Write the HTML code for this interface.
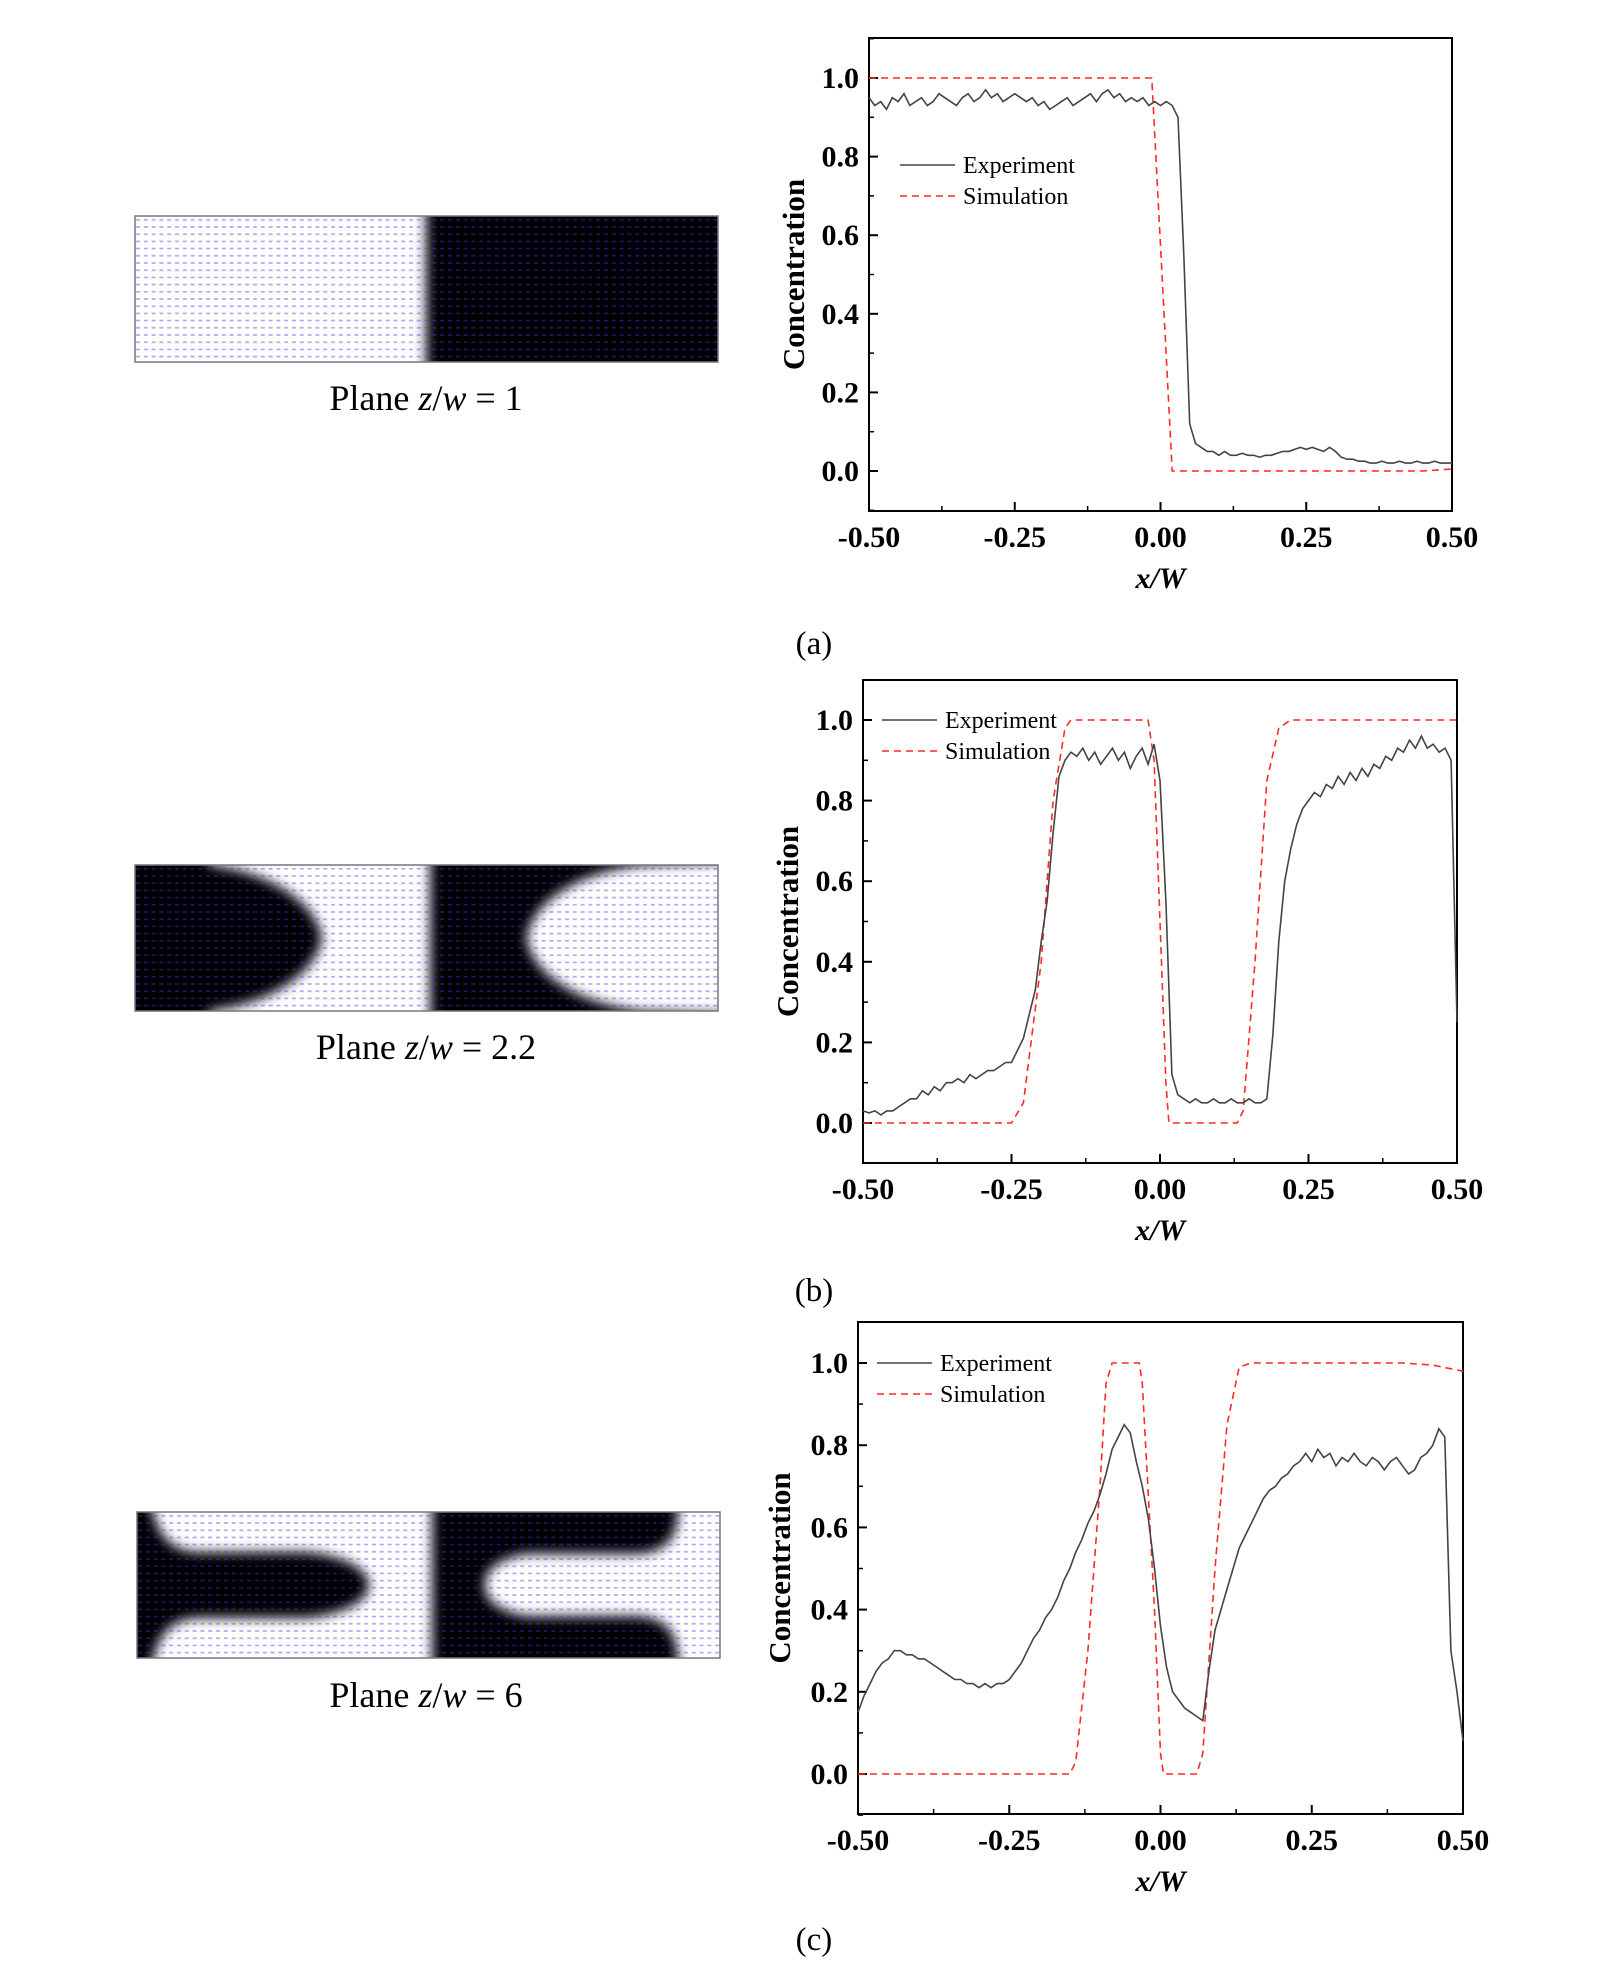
<!DOCTYPE html>
<html><head><meta charset="utf-8"><style>
html,body{margin:0;padding:0;background:#fff;}
svg{display:block;}
text{font-family:"Liberation Serif",serif;}
</style></head><body>
<svg id="fig" width="1604" height="1967" viewBox="0 0 1604 1967" xmlns="http://www.w3.org/2000/svg">
<defs>
<filter id="blur" x="-10%" y="-10%" width="120%" height="120%"><feGaussianBlur stdDeviation="6"/></filter>
<pattern id="vec" width="7.8" height="7.2" patternUnits="userSpaceOnUse">
<rect x="1" y="3" width="4" height="1.6" fill="#3a3aff" opacity="0.45"/>
</pattern>
<clipPath id="ca"><rect width="583" height="146"/></clipPath>
</defs>

<g transform="translate(135,216)">
<g clip-path="url(#ca)"><rect width="583" height="146" fill="#fff"/>
<rect x="291" y="-20" width="320" height="190" fill="#000" filter="url(#blur)"/>
<rect width="583" height="146" fill="url(#vec)"/></g>
<rect width="583" height="146" fill="none" stroke="#777" stroke-width="1.5"/>
</g>
<text x="426" y="410" font-size="36" text-anchor="middle">Plane <tspan font-style="italic">z</tspan>/<tspan font-style="italic">w</tspan> = 1</text>

<g transform="translate(135,865)">
<g clip-path="url(#ca)"><rect width="583" height="146" fill="#fff"/>
<g filter="url(#blur)">
<path d="M-20,-20 L70,-20 L75,0 C140,8 182,40 187,73 C182,106 140,138 75,146 L70,170 L-20,170 Z" fill="#000"/>
<path d="M295,-20 L620,-20 L620,170 L295,170 Z" fill="#000"/>
</g>
<path d="M620,-5 L505,0 C430,10 395,45 392,73 C395,101 430,136 505,146 L620,150 Z" fill="#fff" filter="url(#blur)"/>
<rect width="583" height="146" fill="url(#vec)"/></g>
<rect width="583" height="146" fill="none" stroke="#777" stroke-width="1.5"/>
</g>
<text x="426" y="1059" font-size="36" text-anchor="middle">Plane <tspan font-style="italic">z</tspan>/<tspan font-style="italic">w</tspan> = 2.2</text>

<g transform="translate(137,1512)">
<g clip-path="url(#ca)"><rect width="583" height="146" fill="#fff"/>
<g filter="url(#blur)">
<path d="M-20,-20 L12,-20 C18,20 30,38 60,40 L170,40 C215,45 232,60 232,73 C232,86 215,101 170,106 L60,106 C30,108 18,126 12,170 L-20,170 Z" fill="#000"/>
<path d="M295,-20 L540,-20 C545,20 535,40 500,42 L390,42 C355,48 348,62 348,73 C348,84 355,98 390,104 L500,104 C535,106 545,126 540,170 L295,170 Z" fill="#000"/>
</g>
<rect width="583" height="146" fill="url(#vec)"/></g>
<rect width="583" height="146" fill="none" stroke="#777" stroke-width="1.5"/>
</g>
<text x="426" y="1707" font-size="36" text-anchor="middle">Plane <tspan font-style="italic">z</tspan>/<tspan font-style="italic">w</tspan> = 6</text>

<text x="814" y="654" font-size="33" text-anchor="middle">(a)</text>
<text x="814" y="1301" font-size="33" text-anchor="middle">(b)</text>
<text x="814" y="1950" font-size="33" text-anchor="middle">(c)</text>
</svg>
<script>
const xTicks = [-0.5, -0.25, 0, 0.25, 0.5];
const xTickLabels = ["-0.50", "-0.25", "0.00", "0.25", "0.50"];
const yTicks = [0, 0.2, 0.4, 0.6, 0.8, 1.0];
const yTickLabels = ["0.0", "0.2", "0.4", "0.6", "0.8", "1.0"];

const expA = [0.95,0.93,0.94,0.92,0.95,0.94,0.96,0.93,0.94,0.95,0.93,0.94,0.96,0.95,0.94,0.93,0.95,0.96,0.94,0.95,0.97,0.95,0.96,0.94,0.95,0.96,0.95,0.94,0.95,0.93,0.94,0.92,0.93,0.94,0.95,0.93,0.94,0.95,0.96,0.94,0.96,0.97,0.95,0.96,0.94,0.95,0.94,0.95,0.93,0.94,
0.93,0.94,0.93,0.90,0.55,0.12,0.07,0.06,0.05,0.05,0.04,0.05,0.04,0.04,0.045,0.04,0.04,0.035,0.04,0.04,0.045,0.05,0.05,0.055,0.06,0.055,0.06,0.055,0.05,0.06,0.05,0.035,0.03,0.03,0.025,0.025,0.02,0.02,0.025,0.02,0.02,0.025,0.02,0.02,0.025,0.02,0.02,0.025,0.02,0.02,0.02];
const simAx = [-0.5, -0.015, 0.02, 0.45, 0.5];
const simAy = [1.0, 1.0, 0.0, 0.0, 0.005];

const expB = [0.03,0.025,0.03,0.02,0.03,0.03,0.04,0.05,0.06,0.06,0.08,0.07,0.09,0.08,0.10,0.10,0.11,0.10,0.12,0.11,0.12,0.13,0.13,0.14,0.15,
0.15,0.18,0.21,0.27,0.33,0.45,0.55,0.72,0.86,0.90,0.92,
0.91,0.93,0.90,0.92,0.89,0.91,0.93,0.90,0.92,0.88,0.91,0.93,0.89,0.94,
0.85,0.55,0.12,0.07,0.06,0.05,0.06,0.05,0.05,0.06,0.05,0.05,0.06,0.05,0.05,0.06,0.05,0.05,
0.06,0.22,0.45,0.60,0.68,0.74,0.78,0.80,0.82,0.81,0.84,0.83,0.86,0.84,0.87,0.85,0.88,0.86,0.89,0.88,0.91,0.90,0.93,0.92,0.95,0.93,0.96,0.93,0.94,0.92,0.93,0.90,0.25];
const simBx = [-0.5,-0.25,-0.23,-0.2,-0.18,-0.16,-0.15,-0.02,-0.01,0.0,0.01,0.015,0.13,0.14,0.16,0.18,0.2,0.22,0.5];
const simBy = [0,0,0.05,0.4,0.8,0.98,1.0,1.0,0.9,0.5,0.1,0,0,0.03,0.4,0.85,0.98,1.0,1.0];

const expC = [0.15,0.19,0.22,0.25,0.27,0.28,0.30,0.30,0.29,0.29,0.28,0.28,0.27,0.26,0.25,0.24,0.23,0.23,0.22,0.22,0.21,0.22,0.21,0.22,0.22,
0.23,0.25,0.27,0.30,0.33,0.35,0.38,0.40,0.43,0.47,0.50,0.54,0.57,0.61,0.64,0.68,0.73,0.79,0.82,0.85,0.83,0.76,0.70,0.62,0.50,
0.36,0.26,0.20,0.18,0.16,0.15,0.14,0.13,0.25,0.35,0.40,0.45,0.50,0.55,0.58,0.61,0.64,0.67,0.69,0.70,0.72,0.73,0.75,0.76,0.78,
0.76,0.79,0.77,0.78,0.75,0.77,0.76,0.78,0.76,0.75,0.77,0.76,0.74,0.76,0.77,0.75,0.73,0.74,0.77,0.78,0.80,0.84,0.82,0.30,0.20,0.08];
const simCx = [-0.5,-0.15,-0.14,-0.12,-0.1,-0.09,-0.08,-0.035,-0.03,-0.01,0.0,0.005,0.06,0.07,0.09,0.11,0.13,0.15,0.4,0.45,0.5];
const simCy = [0,0,0.03,0.3,0.7,0.95,1.0,1.0,0.95,0.4,0.05,0,0,0.05,0.5,0.85,0.99,1.0,1.0,0.995,0.98];

const NS = "http://www.w3.org/2000/svg";
const svg = document.getElementById('fig');
function mk(tag, attrs, parent) {
  const e = document.createElementNS(NS, tag);
  for (const k in attrs) e.setAttribute(k, attrs[k]);
  (parent || svg).appendChild(e);
  return e;
}

function drawChart(id, L, R, T, B, y1, y0, exp, sx, sy, leg, ytx) {
  const g = mk('g', {});
  
  
  const X = v => L + (v + 0.5) * (R - L);
  const Y = v => y0 + (y1 - y0) * v;
  const box = mk('rect', {x: L, y: T, width: R - L, height: B - T, fill: 'none', stroke: '#000', 'stroke-width': 2}, g);
  
  
  for (let i = 0; i < xTicks.length; i++) {
    const x = X(xTicks[i]);
    mk('line', {x1: x, x2: x, y1: B, y2: B - 9, stroke: '#000', 'stroke-width': 2}, g);
    if (i < xTicks.length - 1) {
      const xm = X(xTicks[i] + 0.125);
      mk('line', {x1: xm, x2: xm, y1: B, y2: B - 5, stroke: '#000', 'stroke-width': 1.5}, g);
    }
    const t = mk('text', {x: x, y: B + 36, 'font-size': 30, 'font-weight': 'bold', 'text-anchor': 'middle'}, g);
    
    
    t.textContent = xTickLabels[i];
  }
  for (let i = 0; i < yTicks.length; i++) {
    const y = Y(yTicks[i]);
    mk('line', {x1: L, x2: L + 9, y1: y, y2: y, stroke: '#000', 'stroke-width': 2}, g);
    const t = mk('text', {x: L - 10, y: y + 10, 'font-size': 30, 'font-weight': 'bold', 'text-anchor': 'end'}, g);
    
    
    t.textContent = yTickLabels[i];
  }
  for (let v = -0.1; v < 1.15; v += 0.2) {
    const y = Y(v);
    mk('line', {x1: L, x2: L + 5, y1: y, y2: y, stroke: '#000', 'stroke-width': 1.5}, g);
  }
  const yt = mk('text', {x: 0, y: 0, 'font-size': 31, 'font-weight': 'bold', 'text-anchor': 'middle', transform: 'translate(' + (ytx + 11) + ',' + ((T + B) / 2) + ') rotate(-90)'}, g);
  
  
  yt.textContent = 'Concentration';
  const xt = mk('text', {x: (L + R) / 2, y: B + 77, 'font-size': 30, 'font-weight': 'bold', 'font-style': 'italic', 'text-anchor': 'middle'}, g);
  
  
  xt.textContent = 'x/W';
  let d = '';
  for (let i = 0; i < sx.length; i++) d += (i ? 'L' : 'M') + X(sx[i]).toFixed(1) + ',' + Y(sy[i]).toFixed(1);
  const sp = mk('path', {d: d, fill: 'none', stroke: '#ff2a2a', 'stroke-width': 1.6, 'stroke-dasharray': '7,5'}, g);
  
  
  d = '';
  for (let i = 0; i < exp.length; i++) d += (i ? 'L' : 'M') + X(-0.5 + i * 0.01).toFixed(1) + ',' + Y(exp[i]).toFixed(1);
  const ep = mk('path', {d: d, fill: 'none', stroke: '#444', 'stroke-width': 1.6}, g);
  
  
  const lg = mk('g', {}, g);
  
  
  mk('line', {x1: leg[0], x2: leg[0] + 55, y1: leg[1], y2: leg[1], stroke: '#444', 'stroke-width': 1.6}, lg);
  const t1 = mk('text', {x: leg[0] + 63, y: leg[1] + 8, 'font-size': 24}, lg);
  
  
  t1.textContent = 'Experiment';
  mk('line', {x1: leg[0], x2: leg[0] + 55, y1: leg[1] + 31, y2: leg[1] + 31, stroke: '#ff2a2a', 'stroke-width': 1.6, 'stroke-dasharray': '7,5'}, lg);
  const t2 = mk('text', {x: leg[0] + 63, y: leg[1] + 39, 'font-size': 24}, lg);
  
  
  t2.textContent = 'Simulation';
}

drawChart('a', 869, 1452, 38, 511, 78, 471, expA, simAx, simAy, [900, 165], 793);
drawChart('b', 863, 1457, 680, 1163, 720, 1123, expB, simBx, simBy, [882, 720], 787);
drawChart('c', 858, 1463, 1322, 1814, 1363, 1774, expC, simCx, simCy, [877, 1363], 779);
</script>
</body></html>
